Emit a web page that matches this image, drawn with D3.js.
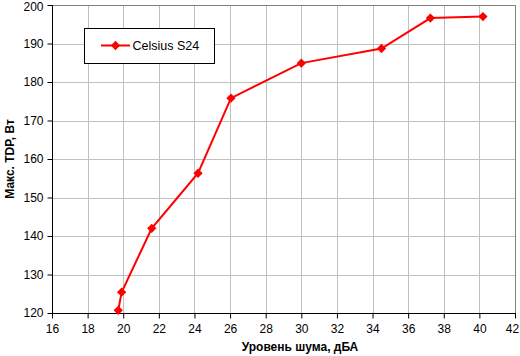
<!DOCTYPE html>
<html><head><meta charset="utf-8">
<script src="https://cdn.jsdelivr.net/npm/d3@7"></script>
<style>body{margin:0;background:#fff}svg{display:block}text{font-family:"Liberation Sans",Arial,sans-serif}</style>
</head><body><svg id="c" width="520" height="356"></svg>
<script>
const seriesName = "Celsius S24";
const noise = [19.72, 19.91, 21.6, 24.2, 26.05, 30.0, 34.5, 37.25, 40.2];
const tdp   = [120.7, 125.4, 142.0, 156.3, 175.8, 184.9, 188.7, 196.6, 197.0];
const xTicks = [16,18,20,22,24,26,28,30,32,34,36,38,40,42];
const yTicks = [120,130,140,150,160,170,180,190,200];
const xTitle = "Уровень шума, дБА";
const yTitle = "Макс. TDP, Вт";

const svg = d3.select("#c");
const L=52, R=515, T=5, B=313;
const x = d3.scaleLinear().domain([16,42]).range([L,R]);
const y = d3.scaleLinear().domain([120,200]).range([B,T]);

// grid
svg.append("g").selectAll("line").data(xTicks.slice(1)).join("line")
  .attr("x1",d=>Math.round(x(d))+0.5).attr("x2",d=>Math.round(x(d))+0.5).attr("y1",T).attr("y2",B)
  .attr("stroke","#c0c0c0");
svg.append("g").selectAll("line").data(yTicks.slice(1)).join("line")
  .attr("y1",d=>Math.round(y(d))+0.5).attr("y2",d=>Math.round(y(d))+0.5).attr("x1",L).attr("x2",R)
  .attr("stroke","#c0c0c0");
// frame top/right
svg.append("path").attr("d",`M${L},${T+0.5}H${R+0.5}V${B}`).attr("fill","none").attr("stroke","#808080");

// axes
const xa = svg.append("g").attr("transform",`translate(0,${B+0.5})`)
  .call(d3.axisBottom(x).tickValues(xTicks).tickSize(5).tickPadding(6).tickSizeOuter(0));
const ya = svg.append("g").attr("transform",`translate(${L+0.5},0)`)
  .call(d3.axisLeft(y).tickValues(yTicks).tickSize(5).tickPadding(4).tickSizeOuter(0));
[xa,ya].forEach(a=>{a.selectAll("path,line").attr("stroke","#000");
  a.selectAll("text").attr("font-size","12px").attr("fill","#000").attr("font-family","'Liberation Sans',Arial,sans-serif");});
xa.select(".domain").attr("d",`M${L},0H${R+1}`);
ya.select(".domain").attr("d",`M0,${T}V${B+1}`);
xa.selectAll(".tick text").filter(d=>d===42).attr("dx","-3");
ya.selectAll(".tick text").filter(d=>d===200).attr("dy","0.45em");

// titles
svg.append("text").attr("x",300).attr("y",351).attr("text-anchor","middle")
  .attr("font-size","12px").attr("font-weight","bold").text(xTitle);
svg.append("text").attr("transform",`translate(14,${(T+B)/2}) rotate(-90)`).attr("text-anchor","middle")
  .attr("font-size","12px").attr("font-weight","bold").text(yTitle);

// line
const pts = noise.map((v,i)=>[v,tdp[i]]);
svg.append("path").datum(pts).attr("fill","none").attr("stroke","#ff0000").attr("stroke-width",2)
  .attr("d",d3.line().x(d=>x(d[0])).y(d=>y(d[1])));
const diamond = d3.symbol().type(d3.symbolDiamond2).size(55);
svg.append("g").selectAll("path").data(pts).join("path")
  .attr("transform",d=>`translate(${x(d[0])},${y(d[1])})`).attr("d",diamond).attr("fill","#ff0000");

// legend
svg.append("rect").attr("x",84.5).attr("y",28.5).attr("width",130).attr("height",35)
  .attr("fill","#fff").attr("stroke","#000");
svg.append("line").attr("x1",101).attr("x2",130).attr("y1",45.5).attr("y2",45.5).attr("stroke","#ff0000").attr("stroke-width",2);
svg.append("path").attr("transform","translate(115.5,45.5)").attr("d",diamond).attr("fill","#ff0000");
svg.append("text").attr("x",132.5).attr("y",50).attr("font-size","12.5px").text(seriesName);
</script></body></html>
